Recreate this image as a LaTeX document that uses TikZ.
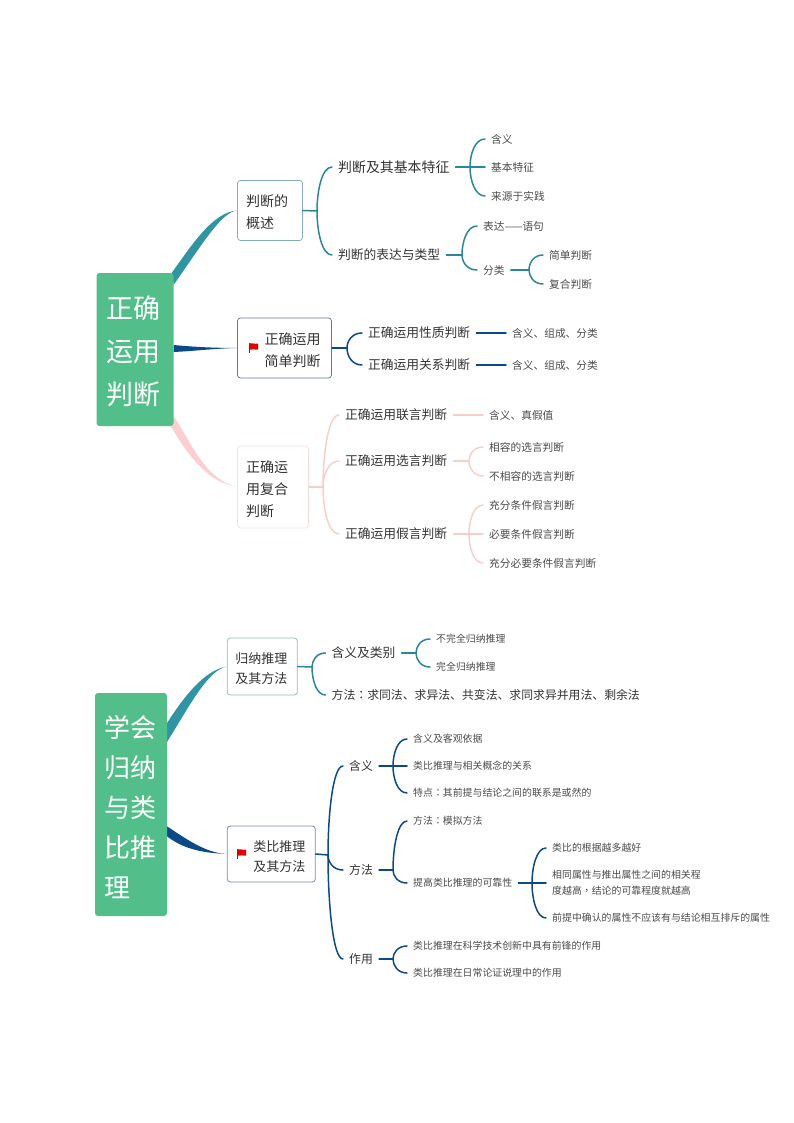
\documentclass[tikz,border=0pt]{standalone}
\usepackage{fontspec}
\setmainfont{Noto Sans CJK SC}
\newfontfamily\tcfont{Noto Sans CJK TC}
\usetikzlibrary{calc,backgrounds}
\definecolor{rootg}{HTML}{52BF8B}
\definecolor{tealL}{HTML}{2A8795}
\definecolor{tealB}{HTML}{2F95A3}
\definecolor{navyL}{HTML}{0B4A8A}
\definecolor{pinkL}{HTML}{F6CFCB}
\definecolor{pinkB}{HTML}{FBCFCF}
\definecolor{txtA}{HTML}{333333}
\definecolor{txtB}{HTML}{4A4A4A}
\newcommand\kid[3]{\draw[ln,#1] (#2) let \p1=(#2), \p2=([xshift=-6pt]#3.west) in .. controls (\x1,{\y1+0.45*(\y2-\y1)}) and ({\x1+0.32*(\x2-\x1)},\y2) .. (\p2);}
\newcommand\stub[3]{\draw[ln,#1] ([xshift=6pt]#2.east) -- (#3);}
\newcommand\boxstub[3]{\draw[ln,#1] (#2.east) -- (#3);}
\newcommand\redflag[2]{\begin{scope}[shift={(#1,#2)}]
\draw[line width=0.8pt,red!75!black] (0.4,0) -- (0.4,10);
\fill[red!90!black] (0.4,0.2) .. controls (3,-0.8) and (5,1.6) .. (9,0.6) -- (9,6.6) .. controls (6,7.6) and (3,5.2) .. (0.4,6.6) -- cycle;
\end{scope}}
\newcommand\lift[1]{\rule{0pt}{#1pt}}
\tikzset{
  x=1pt,y=-1pt,
  ln/.style={line width=1.5pt,line cap=round},
  rootbox/.style={fill=rootg,rounded corners=3pt,text=white,align=left,inner ysep=0pt,inner xsep=9.5pt},
  topic/.style={draw,fill=white,rounded corners=3pt,line width=0.8pt,text=txtA,inner ysep=0pt,font=\fontsize{14}{22}\selectfont},
  big/.style={anchor=west,inner sep=0pt,text=txtA,font=\fontsize{13.9}{18}\selectfont},
  mid/.style={anchor=west,inner sep=0pt,text=txtA,font=\fontsize{12.75}{18}\selectfont},
  mids/.style={anchor=west,inner sep=0pt,text=txtA,font=\fontsize{11.85}{16}\selectfont},
  sml/.style={anchor=west,inner sep=0pt,text=txtB,font=\fontsize{10.7}{15}\selectfont},
  tiny/.style={anchor=west,inner sep=0pt,text=txtB,align=left,font=\fontsize{9.9}{16}\selectfont},
}
\begin{document}
\begin{tikzpicture}
\useasboundingbox (0,0) rectangle (794,1123);
% ---------- first map
\node[rootbox,text width=58pt,minimum height=153pt,font=\fontsize{27}{43}\selectfont] (r1) at (135,349.5) {\lift{27}正确\\运用\\判断};
\node[topic,draw=tealB!60!gray!70,text width=48pt,inner xsep=8.5pt,minimum height=60pt,align=left] (b1) at (270,210.5) {\lift{15.5}判断的\\概述};
\node[topic,draw=navyL!70!gray!80,text width=72pt,inner xsep=11pt,minimum height=60pt,align=right] (b2) at (284.5,348) {\lift{15.5}正确运用\\简单判断};
\node[topic,draw=pinkB!70,text width=54pt,inner xsep=8.5pt,minimum height=82pt,align=left] (b3) at (273,487) {\lift{16.5}正确运\\用复合\\判断};
\redflag{249}{343}
\begin{scope}[on background layer]
\fill[tealB] ([xshift=-2pt]r1.north east) .. controls (190,248) and (212,212) .. (b1.west) .. controls (222,212) and (205,240) .. ([yshift=-12pt]r1.north east) -- cycle;
\fill[navyL] ([yshift=4.5pt]r1.east) .. controls (195,347) and (215,348) .. (b2.west) .. controls (215,348.5) and (195,351) .. ([yshift=-2.5pt]r1.east) -- cycle;
\fill[pinkB] ([yshift=10pt]r1.south east) .. controls (190,440) and (205,480) .. (b3.west) .. controls (210,482) and (192,462) .. ([xshift=-3pt]r1.south east) -- cycle;
\end{scope}
\node[big] (a1) at (338,167) {判断及其基本特征};
\node[mid] (a2) at (338,255) {判断的表达与类型};
\node[sml] (a11) at (491,139) {含义};
\node[sml] (a12) at (491,167) {基本特征};
\node[sml] (a13) at (491,196) {来源于实践};
\node[sml] (a21) at (483,226) {表达——语句};
\node[sml] (a22) at (483,270) {分类};
\node[sml] (a221) at (549,255) {简单判断};
\node[sml] (a222) at (549,284) {复合判断};
\coordinate (j1) at (317,211);
\coordinate (j11) at (470,167);
\coordinate (j2) at (462,255);
\coordinate (j22) at (529,270);
\boxstub{tealL}{b1}{j1}
\kid{tealL}{j1}{a1} \kid{tealL}{j1}{a2}
\stub{tealL}{a1}{j11}
\kid{tealL}{j11}{a11} \kid{tealL}{j11}{a12} \kid{tealL}{j11}{a13}
\stub{tealL}{a2}{j2}
\kid{tealL}{j2}{a21} \kid{tealL}{j2}{a22}
\stub{tealL}{a22}{j22}
\kid{tealL}{j22}{a221} \kid{tealL}{j22}{a222}
% second branch
\node[mid] (c1) at (368,333) {正确运用性质判断};
\node[mid] (c2) at (368,365) {正确运用关系判断};
\node[sml] (c11) at (512,333) {含义、组成、分类};
\node[sml] (c21) at (512,365) {含义、组成、分类};
\coordinate (j3) at (347,348);
\boxstub{navyL}{b2}{j3}
\kid{navyL}{j3}{c1} \kid{navyL}{j3}{c2}
\draw[ln,navyL] ([xshift=6pt]c1.east) -- ([xshift=-6pt]c11.west);
\draw[ln,navyL] ([xshift=6pt]c2.east) -- ([xshift=-6pt]c21.west);
% third branch
\node[mid] (d1) at (345,415) {正确运用联言判断};
\node[mid] (d2) at (345,461) {正确运用选言判断};
\node[mid] (d3) at (345,534) {正确运用假言判断};
\node[sml] (d11) at (489,415) {含义、真假值};
\node[sml] (d21) at (489,447) {相容的选言判断};
\node[sml] (d22) at (489,476) {不相容的选言判断};
\node[sml] (d31) at (489,505) {充分条件假言判断};
\node[sml] (d32) at (489,534) {必要条件假言判断};
\node[sml] (d33) at (489,563) {充分必要条件假言判断};
\coordinate (j4) at (323,487);
\coordinate (j42) at (469,461);
\coordinate (j43) at (469,534);
\boxstub{pinkL}{b3}{j4}
\kid{pinkL}{j4}{d1} \kid{pinkL}{j4}{d2} \kid{pinkL}{j4}{d3}
\draw[ln,pinkL] ([xshift=6pt]d1.east) -- ([xshift=-6pt]d11.west);
\stub{pinkL}{d2}{j42}
\kid{pinkL}{j42}{d21} \kid{pinkL}{j42}{d22}
\stub{pinkL}{d3}{j43}
\kid{pinkL}{j43}{d31} \kid{pinkL}{j43}{d32} \kid{pinkL}{j43}{d33}
% ---------- second map
\node[rootbox,inner xsep=9pt,text width=54pt,minimum height=223pt,font=\fontsize{26}{40}\selectfont] (r2) at (131,804.5) {\lift{28}学会\\归纳\\与类\\比推\\理};
\node[topic,draw=tealB!50!gray!60,font=\fontsize{13}{20}\selectfont,text width=54pt,inner xsep=8pt,minimum height=57pt,align=left] (e1) at (262.3,666.5) {\lift{16}归纳推理\\及其方法};
\node[topic,draw=navyL!60!gray!70,font=\fontsize{13}{20}\selectfont,text width=68pt,inner xsep=10pt,minimum height=56pt,align=right] (e2) at (271.3,854) {\lift{16}类比推理\\及其方法};
\redflag{237}{849}
\begin{scope}[on background layer]
\fill[tealB] ([yshift=-30pt]r2.north east) .. controls (185,695) and (205,670) .. (e1.west) .. controls (208,670) and (190,705) .. ([yshift=-49pt]r2.north east) -- cycle;
\fill[navyL] ([yshift=-22pt]r2.east) .. controls (185,838) and (205,853) .. (e2.west) .. controls (205,853) and (185,850) .. ([yshift=-32pt]r2.east) -- cycle;
\end{scope}
\node[mid] (f1) at (331.5,653) {含义及类别};
\node[mids] (f2) at (331.5,695) {方法{\tcfont ：}求同法、求异法、共变法、求同求异并用法、剩余法};
\node[tiny] (f11) at (436,639) {不完全归纳推理};
\node[tiny] (f12) at (436,667) {完全归纳推理};
\coordinate (j5) at (312,667);
\coordinate (j51) at (416,653);
\boxstub{tealL}{e1}{j5}
\kid{tealL}{j5}{f1} \kid{tealL}{j5}{f2}
\stub{tealL}{f1}{j51}
\kid{tealL}{j51}{f11} \kid{tealL}{j51}{f12}
\node[mids] (g1) at (349,766) {含义};
\node[mids] (g2) at (349,870) {方法};
\node[mids] (g3) at (349,959) {作用};
\coordinate (j6) at (328,855);
\boxstub{navyL}{e2}{j6}
\kid{navyL}{j6}{g1} \kid{navyL}{j6}{g2} \kid{navyL}{j6}{g3}
\node[tiny] (g11) at (413,739) {含义及客观依据};
\node[tiny] (g12) at (413,766) {类比推理与相关概念的关系};
\node[tiny] (g13) at (413,793) {特点{\tcfont ：}其前提与结论之间的联系是或然的};
\coordinate (j61) at (393,766);
\stub{navyL}{g1}{j61}
\kid{navyL}{j61}{g11} \kid{navyL}{j61}{g12} \kid{navyL}{j61}{g13}
\node[tiny] (g21) at (413,821) {方法{\tcfont ：}模拟方法};
\node[tiny] (g22) at (413,883) {提高类比推理的可靠性};
\coordinate (j62) at (393,870);
\stub{navyL}{g2}{j62}
\kid{navyL}{j62}{g21} \kid{navyL}{j62}{g22}
\node[tiny] (h1) at (552,848) {类比的根据越多越好};
\node[tiny] (h2) at (552,883) {相同属性与推出属性之间的相关程\\度越高{\tcfont ，}结论的可靠程度就越高};
\node[tiny] (h3) at (552,918) {前提中确认的属性不应该有与结论相互排斥的属性};
\coordinate (j7) at (532,883);
\stub{navyL}{g22}{j7}
\kid{navyL}{j7}{h1} \kid{navyL}{j7}{h2} \kid{navyL}{j7}{h3}
\node[tiny] (g31) at (413,946) {类比推理在科学技术创新中具有前锋的作用};
\node[tiny] (g32) at (413,973) {类比推理在日常论证说理中的作用};
\coordinate (j63) at (393,959);
\stub{navyL}{g3}{j63}
\kid{navyL}{j63}{g31} \kid{navyL}{j63}{g32}
\end{tikzpicture}
\end{document}
